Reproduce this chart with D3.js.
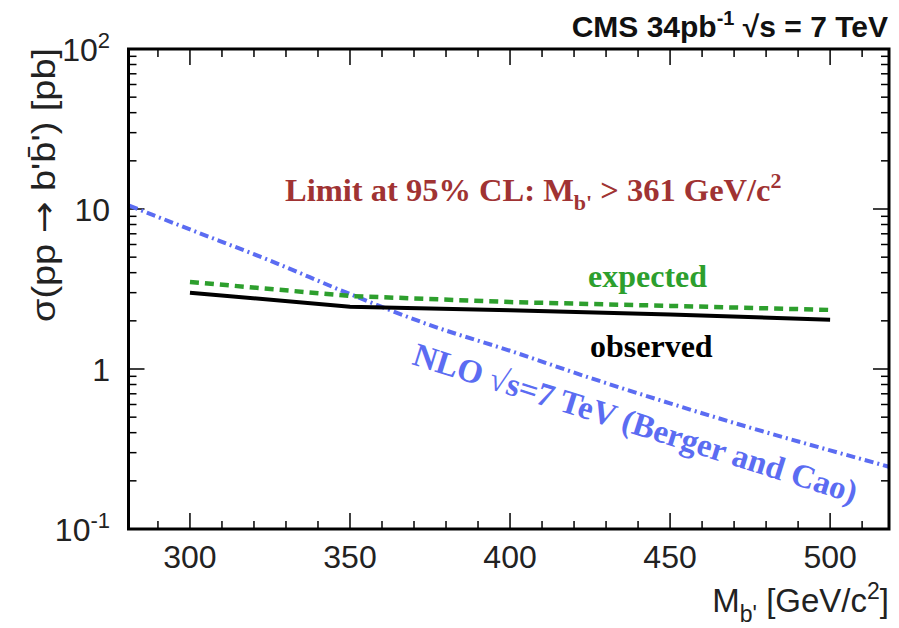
<!DOCTYPE html>
<html>
<head>
<meta charset="utf-8">
<script src="https://cdn.jsdelivr.net/npm/d3@7"></script>
<style>
    body { margin: 0; background: #fff; }
    .sans { font-family: "Liberation Sans", Arial, sans-serif; }
    .serif { font-family: "Liberation Serif", "Times New Roman", serif; font-weight: bold; }
</style>
</head>
<body>
<script>
(function(){

    //mass points of the limit scan [GeV/c2]
    var massPoints = [300, 350, 400, 450, 500];
    //95% CL upper limits [pb]
    var observedLimit = [3.0, 2.45, 2.33, 2.19, 2.03];
    var expectedLimit = [3.5, 2.86, 2.62, 2.48, 2.34];
    //NLO theory cross section (Berger and Cao)
    var nloMass = [281, 300, 325, 350, 375, 400, 425, 450, 475, 500, 518.4];
    var nloXsec = [10.5, 7.45, 4.76, 2.94, 1.88, 1.30, 0.88, 0.61, 0.43, 0.31, 0.245];

    //axis ticks
    var xTicks = [300, 350, 400, 450, 500];
    var yTicks = [0.1, 1, 10, 100];
    var yTickBase = ["10", "1", "10", "10"];
    var yTickExp = ["-1", "", "", "2"];

    //begin script when window loads
    window.onload = drawChart();

function drawChart(){

    //svg dimensions and frame
    var width = 899,
        height = 628;
    var frame = {left: 128.5, right: 889, top: 49, bottom: 529};

    var svg = d3.select("body")
        .append("svg")
        .attr("width", width)
        .attr("height", height);

    //scales
    var x = d3.scaleLinear()
        .domain([280.8, 518.4])
        .range([frame.left, frame.right]);

    var y = d3.scaleLog()
        .domain([0.1, 100])
        .range([frame.bottom, frame.top]);

    drawTicks(svg, x, y, frame);
    drawCurves(svg, x, y);
    drawLabels(svg, x, y, frame);

    //frame on top
    svg.append("rect")
        .attr("x", frame.left)
        .attr("y", frame.top)
        .attr("width", frame.right - frame.left)
        .attr("height", frame.bottom - frame.top)
        .attr("fill", "none")
        .attr("stroke", "#000")
        .attr("stroke-width", 3);
};

//ROOT style inward ticks on all four sides
function drawTicks(svg, x, y, frame){
    var g = svg.append("g")
        .attr("stroke", "#000")
        .attr("stroke-width", 1.5);

    //x minor every 10, major every 50
    var xMinor = d3.range(290, 520, 10);
    xMinor.forEach(function(m){
        var len = xTicks.indexOf(m) >= 0 ? 16 : 8;
        g.append("line")
            .attr("x1", x(m)).attr("x2", x(m))
            .attr("y1", frame.bottom).attr("y2", frame.bottom - len);
        g.append("line")
            .attr("x1", x(m)).attr("x2", x(m))
            .attr("y1", frame.top).attr("y2", frame.top + len);
    });

    //y log ticks
    var yMinor = [];
    [0.1, 1, 10].forEach(function(d){
        for (var k=1; k<=9; k++){ yMinor.push(d * k); };
    });
    yMinor.push(100);
    yMinor.forEach(function(v){
        var major = Math.abs(Math.log10(v) - Math.round(Math.log10(v))) < 1e-6;
        var len = major ? 16 : 8;
        g.append("line")
            .attr("x1", frame.left).attr("x2", frame.left + len)
            .attr("y1", y(v)).attr("y2", y(v));
        g.append("line")
            .attr("x1", frame.right).attr("x2", frame.right - len)
            .attr("y1", y(v)).attr("y2", y(v));
    });
};

function drawCurves(svg, x, y){
    var line = d3.line()
        .x(function(d){ return x(d[0]); })
        .y(function(d){ return y(d[1]); });

    //NLO theory, dash-dot blue
    svg.append("path")
        .datum(d3.zip(nloMass, nloXsec))
        .attr("d", line.curve(d3.curveMonotoneX))
        .attr("fill", "none")
        .attr("stroke", "#5b6cf2")
        .attr("stroke-width", 4)
        .attr("stroke-dasharray", "9,4,2,4");

    //expected, dashed green
    svg.append("path")
        .datum(d3.zip(massPoints, expectedLimit))
        .attr("d", line.curve(d3.curveLinear))
        .attr("fill", "none")
        .attr("stroke", "#2d9f2d")
        .attr("stroke-width", 4.5)
        .attr("stroke-dasharray", "9,6");

    //observed, solid black
    svg.append("path")
        .datum(d3.zip(massPoints, observedLimit))
        .attr("d", line.curve(d3.curveLinear))
        .attr("fill", "none")
        .attr("stroke", "#000")
        .attr("stroke-width", 4);
};

function drawLabels(svg, x, y, frame){

    //x tick labels
    svg.selectAll(".xlab")
        .data(xTicks)
        .enter()
        .append("text")
        .attr("class", "xlab sans")
        .attr("x", function(d){ return x(d); })
        .attr("y", 568)
        .attr("text-anchor", "middle")
        .attr("font-size", 32)
        .attr("fill", "#222")
        .text(function(d){ return d; });

    //y tick labels with exponents
    var ylab = svg.selectAll(".ylab")
        .data(yTicks)
        .enter()
        .append("text")
        .attr("class", "ylab sans")
        .attr("x", 110)
        .attr("y", function(d){ return y(d) + 12; })
        .attr("text-anchor", "end")
        .attr("font-size", 32)
        .attr("fill", "#222");
    ylab.append("tspan")
        .text(function(d, i){ return yTickBase[i]; });
    ylab.append("tspan")
        .attr("dy", -13)
        .attr("font-size", 22)
        .text(function(d, i){ return yTickExp[i]; });

    //x axis title
    var xt = svg.append("text")
        .attr("class", "sans")
        .attr("x", 889)
        .attr("y", 612)
        .attr("text-anchor", "end")
        .attr("font-size", 33)
        .attr("fill", "#222");
    xt.append("tspan").text("M");
    xt.append("tspan").attr("dy", 10).attr("font-size", 23).text("b'");
    xt.append("tspan").attr("dy", -10).text(" [GeV/c");
    xt.append("tspan").attr("dy", -13).attr("font-size", 23).text("2");
    xt.append("tspan").attr("dy", 13).text("]");

    //y axis title, stretched to the length used by ROOT
    var yt = svg.append("text")
        .attr("class", "sans")
        .attr("transform", "translate(55,48) rotate(-90)")
        .attr("text-anchor", "end")
        .attr("font-size", 33)
        .attr("textLength", 274)
        .attr("lengthAdjust", "spacingAndGlyphs")
        .attr("fill", "#222");
    yt.append("tspan").text("\u03c3(pp ");
    yt.append("tspan").style("font-family", "DejaVu Sans").text("\u2192");
    yt.append("tspan").text(" b'b\u0304') [pb]");

    //CMS label
    var cms = svg.append("text")
        .attr("class", "sans")
        .attr("x", 888)
        .attr("y", 37)
        .attr("text-anchor", "end")
        .attr("font-size", 30)
        .attr("font-weight", "bold")
        .attr("fill", "#111");
    cms.append("tspan").text("CMS 34pb");
    cms.append("tspan").attr("dy", -12).attr("font-size", 20).text("-1");
    cms.append("tspan").attr("dy", 12).text(" \u221as = 7 TeV");

    //limit statement
    var lim = svg.append("text")
        .attr("class", "serif")
        .attr("x", 285)
        .attr("y", 201)
        .attr("font-size", 32.5)
        .attr("fill", "#a03333");
    lim.append("tspan").text("Limit at 95% CL: M");
    lim.append("tspan").attr("dy", 9).attr("font-size", 22).text("b'");
    lim.append("tspan").attr("dy", -9).text(" > 361 GeV/c");
    lim.append("tspan").attr("dy", -13).attr("font-size", 22).text("2");

    //curve labels
    svg.append("text")
        .attr("class", "serif")
        .attr("x", 588)
        .attr("y", 287)
        .attr("font-size", 32)
        .attr("fill", "#2d9f2d")
        .text("expected");

    svg.append("text")
        .attr("class", "serif")
        .attr("x", 590)
        .attr("y", 357)
        .attr("font-size", 32)
        .attr("fill", "#000")
        .text("observed");

    svg.append("text")
        .attr("class", "serif")
        .attr("transform", "translate(411,364) rotate(17.5)")
        .attr("font-size", 33)
        .attr("fill", "#5b6cf2")
        .text("NLO \u221as=7 TeV (Berger and Cao)");
};

})();
</script>
</body>
</html>
